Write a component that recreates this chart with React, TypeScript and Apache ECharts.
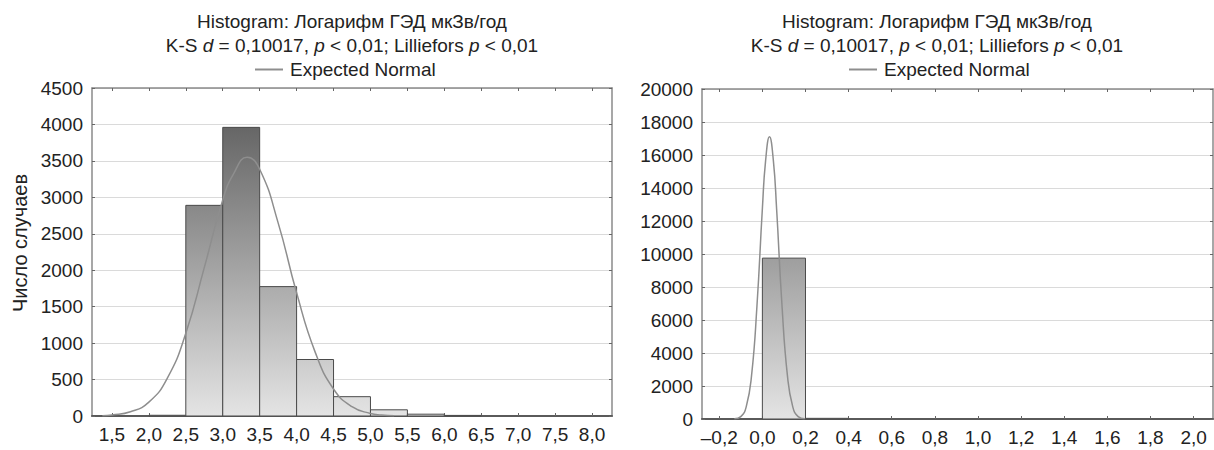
import React, { useEffect, useRef } from "react";
import * as echarts from "echarts";

// ---- Data ----
const LEFT_BIN_EDGES = [2.0, 2.5, 3.0, 3.5, 4.0, 4.5, 5.0, 5.5, 6.0, 6.5];
const LEFT_COUNTS = [10, 2890, 3960, 1775, 775, 265, 85, 25, 8];
const LEFT_X_TICKS = [1.5, 2.0, 2.5, 3.0, 3.5, 4.0, 4.5, 5.0, 5.5, 6.0, 6.5, 7.0, 7.5, 8.0];
const LEFT_NORMAL_X = [1.37, 1.5, 1.75, 2.0, 2.25, 2.5, 2.75, 3.0, 3.15, 3.33, 3.5, 3.75, 4.0, 4.25, 4.5, 4.75, 5.0, 5.15, 5.32];
const LEFT_NORMAL_Y = [5, 14, 58, 190, 520, 1135, 2035, 2965, 3330, 3550, 3385, 2650, 1690, 880, 370, 128, 35, 14, 3];

const RIGHT_BIN_EDGES = [0.0, 0.2, 0.4];
const RIGHT_COUNTS = [9750, 40];
const RIGHT_X_TICKS = [-0.2, 0.0, 0.2, 0.4, 0.6, 0.8, 1.0, 1.2, 1.4, 1.6, 1.8, 2.0];
const RIGHT_NORMAL_X = [-0.13, -0.1, -0.075, -0.05, -0.025, 0.0, 0.015, 0.033, 0.051, 0.066, 0.091, 0.116, 0.141, 0.166, 0.196];
const RIGHT_NORMAL_Y = [13, 144, 732, 2655, 6880, 12740, 15660, 17100, 15660, 12740, 6880, 2655, 732, 144, 13];

const TITLE_LINE1 = "Histogram: Логарифм ГЭД мкЗв/год";
const LEGEND_NAME = "Expected Normal";
const Y_NAME = "Число случаев";

const FONT = "'Liberation Sans', Arial, sans-serif";
const TEXT = "#222";
const FS = 19;

function fmt(v: number): string {
  const s = (Math.round(v * 10) / 10).toFixed(1).replace(".", ",");
  return s.replace("-", "–");
}

function histData(edges: number[], counts: number[]) {
  return counts.map((c, i) => [edges[i], edges[i + 1], c]);
}

function zip(xs: number[], ys: number[]) {
  return xs.map((x, i) => [x, ys[i]]);
}

function makeRender(yMax: number) {
  return (params: any, api: any) => {
    const x0 = api.value(0);
    const x1 = api.value(1);
    const v = api.value(2);
    const p0 = api.coord([x0, v]);
    const p1 = api.coord([x1, 0]);
    const top = api.coord([x0, yMax])[1];
    return {
      type: "rect",
      shape: { x: p0[0], y: p0[1], width: p1[0] - p0[0], height: p1[1] - p0[1] },
      style: {
        fill: new echarts.graphic.LinearGradient(
          0, top, 0, p1[1],
          [
            { offset: 0, color: "#555555" },
            { offset: 1, color: "#e4e4e4" },
          ],
          true
        ),
        stroke: "#4a4a4a",
        lineWidth: 1,
      },
    };
  };
}

const base = { fontSize: FS, fontFamily: FONT, color: TEXT, fontWeight: "normal", lineHeight: 24 };
const titleRich = {
  a: { ...base },
  n: { ...base },
  i: { ...base, fontStyle: "italic" },
};
const titleText =
  "{a|" + TITLE_LINE1 + "}\n{n|K-S }{i|d}{n| = 0,10017, }{i|p}{n| < 0,01; Lilliefors }{i|p}{n| < 0,01}";

function frameX(gridIndex: number, min: number, max: number, ticks: number[], position: "top" | "bottom") {
  const isBottom = position === "bottom";
  return {
    type: "value",
    gridIndex,
    position,
    min,
    max,
    axisLine: { show: true, onZero: false, lineStyle: { color: isBottom ? "#5a5a5a" : "#8a8a8a", width: isBottom ? 2 : 1.5 } },
    axisTick: { show: true, inside: true, length: 3, customValues: ticks, lineStyle: { color: "#666" } },
    axisLabel: {
      show: isBottom,
      customValues: ticks,
      formatter: (v: number) => fmt(v),
      fontSize: FS,
      fontFamily: FONT,
      color: TEXT,
      margin: 9,
    },
    splitLine: { show: false },
  };
}

function frameY(gridIndex: number, max: number, interval: number, position: "left" | "right", withName: boolean) {
  const isLeft = position === "left";
  const o: any = {
    type: "value",
    gridIndex,
    position,
    min: 0,
    max,
    interval,
    axisLine: { show: true, onZero: false, lineStyle: { color: "#8a8a8a", width: 1.5 } },
    axisTick: { show: true, inside: true, length: 3, lineStyle: { color: "#666" } },
    axisLabel: {
      show: isLeft,
      formatter: (v: number) => String(v),
      fontSize: FS,
      fontFamily: FONT,
      color: TEXT,
      margin: 9,
    },
    splitLine: { show: isLeft, lineStyle: { color: "#dadada", width: 1 } },
  };
  if (withName) {
    o.name = Y_NAME;
    o.nameLocation = "middle";
    o.nameGap = 62;
    o.nameTextStyle = { fontSize: 20, fontFamily: FONT, color: TEXT, padding: [0, 0, 0, 18] };
  }
  return o;
}

function legendAt(left: number) {
  return {
    data: [{ name: LEGEND_NAME, icon: "rect" }],
    left,
    top: 55,
    itemWidth: 28,
    itemHeight: 2,
    itemGap: 8,
    itemStyle: { color: "#8e8e8e" },
    textStyle: { fontSize: FS, fontFamily: FONT, color: TEXT, padding: [0, 0, 0, 2] },
    selectedMode: false,
  };
}

export default function App() {
  const ref = useRef<HTMLDivElement>(null);
  useEffect(() => {
    if (!ref.current) return;
    const chart = echarts.init(ref.current, undefined, { renderer: "svg" });
    const option: any = {
      animation: false,
      backgroundColor: "#ffffff",
      textStyle: { fontFamily: FONT },
      title: [
        { text: titleText, left: 347, top: 4, textAlign: "center", textStyle: { rich: titleRich } },
        { text: titleText, left: 932, top: 4, textAlign: "center", textStyle: { rich: titleRich } },
      ],
      legend: [legendAt(250), legendAt(844)],
      grid: [
        { left: 92, top: 88, width: 520, height: 328 },
        { left: 702, top: 89, width: 511, height: 330 },
      ],
      xAxis: [
        frameX(0, 1.23, 8.27, LEFT_X_TICKS, "bottom"),
        frameX(0, 1.23, 8.27, LEFT_X_TICKS, "top"),
        frameX(1, -0.28, 2.09, RIGHT_X_TICKS, "bottom"),
        frameX(1, -0.28, 2.09, RIGHT_X_TICKS, "top"),
      ],
      yAxis: [
        frameY(0, 4500, 500, "left", true),
        frameY(0, 4500, 500, "right", false),
        frameY(1, 20000, 2000, "left", false),
        frameY(1, 20000, 2000, "right", false),
      ],
      series: [
        {
          name: "hist-left",
          type: "custom",
          xAxisIndex: 0,
          yAxisIndex: 0,
          data: histData(LEFT_BIN_EDGES, LEFT_COUNTS),
          encode: { x: [0, 1], y: 2 },
          renderItem: makeRender(4500),
          z: 2,
        },
        {
          name: LEGEND_NAME,
          type: "line",
          xAxisIndex: 0,
          yAxisIndex: 0,
          data: zip(LEFT_NORMAL_X, LEFT_NORMAL_Y),
          smooth: true,
          symbol: "none",
          lineStyle: { color: "#8e8e8e", width: 1.5 },
          itemStyle: { color: "#8e8e8e" },
          z: 3,
        },
        {
          name: "hist-right",
          type: "custom",
          xAxisIndex: 2,
          yAxisIndex: 2,
          data: histData(RIGHT_BIN_EDGES, RIGHT_COUNTS),
          encode: { x: [0, 1], y: 2 },
          renderItem: makeRender(20000),
          z: 2,
        },
        {
          name: LEGEND_NAME,
          type: "line",
          xAxisIndex: 2,
          yAxisIndex: 2,
          data: zip(RIGHT_NORMAL_X, RIGHT_NORMAL_Y),
          smooth: true,
          symbol: "none",
          lineStyle: { color: "#8e8e8e", width: 1.5 },
          itemStyle: { color: "#8e8e8e" },
          z: 3,
        },
      ],
    };
    chart.setOption(option);
    return () => chart.dispose();
  }, []);
  return (
    <div
      ref={ref}
      style={{ position: "fixed", left: 0, top: 0, width: 1214, height: 450, background: "#fff" }}
    />
  );
}
